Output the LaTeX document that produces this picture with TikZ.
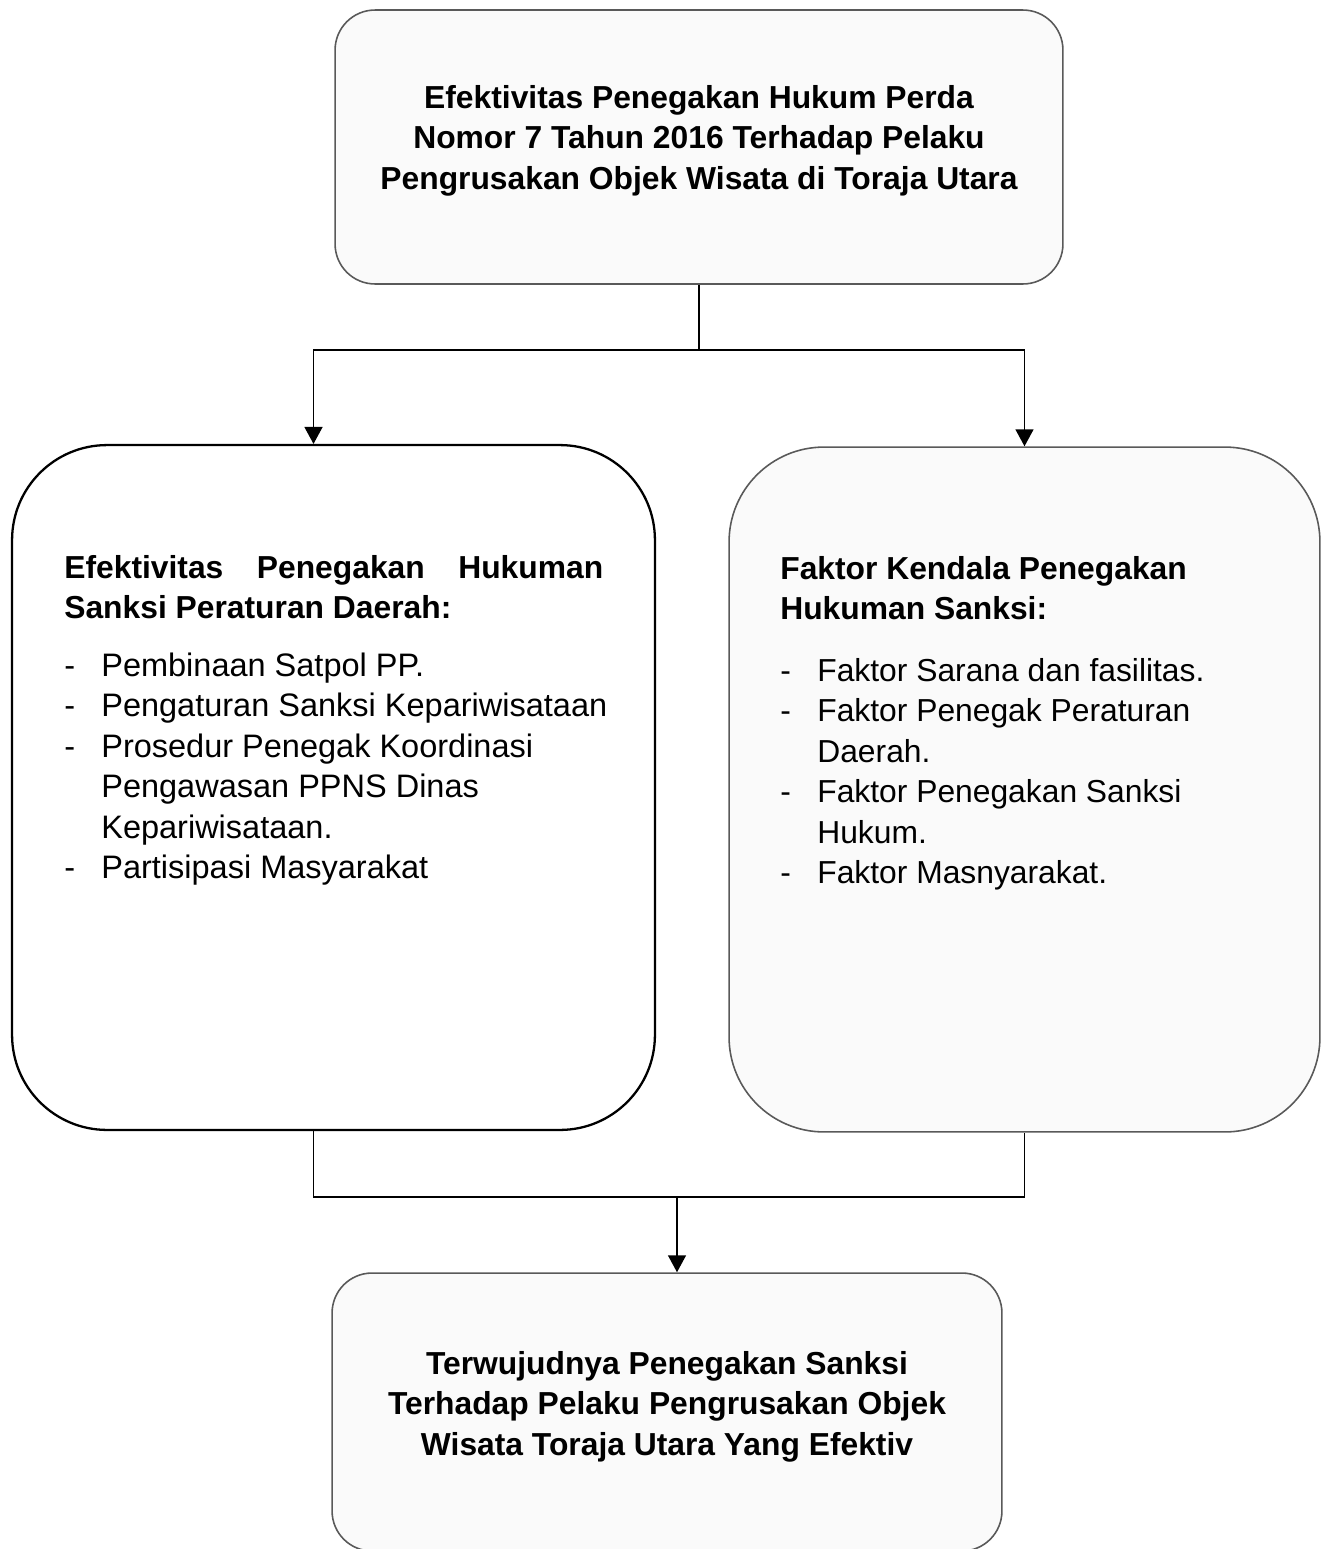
\documentclass[tikz,border=0pt]{standalone}
\usepackage{fontspec}
\setmainfont{Liberation Sans}
\usetikzlibrary{arrows.meta}

\begin{document}
\begin{tikzpicture}[x = 0.02cm, y = -0.02cm,
        kotak/.style = {draw = black!65, fill = black!2, line width = 0.9pt, rounded corners = 0.8cm, inner sep = 0pt},
        kotakbesar/.style = {kotak, rounded corners = 1.9cm},
        teks/.style = {inner sep = 0pt, font = \fontsize{18.1}{23.1}\selectfont},
        tebal/.style = {inner sep = 0pt, font = \fontsize{18.1}{23.1}\selectfont\bfseries},
        garis/.style = {line width = 0.85pt},
        panah/.style = {garis, -{Triangle[length = 0.34cm, width = 0.36cm]}}]
        \useasboundingbox (0, 0) rectangle (1329, 1549);

        % Nodes
        \node [kotak, minimum width = 14.56cm, minimum height = 5.48cm] (judul) at (699, 147) {};
        \node [kotakbesar, draw = black, fill = white, line width = 1.3pt, minimum width = 12.86cm, minimum height = 13.7cm] (efektif) at (333.5, 787.5) {};
        \node [kotakbesar, minimum width = 11.82cm, minimum height = 13.7cm] (kendala) at (1024.5, 789.5) {};
        \node [kotak, minimum width = 13.4cm, minimum height = 5.56cm] (hasil) at (667, 1412) {};

        % Texts
        \node [tebal, anchor = base] (judul-teks) at (699, 108) {\begin{tabular}[t]{@{}c@{}}
            Efektivitas Penegakan Hukum Perda\\
            Nomor 7 Tahun 2016 Terhadap Pelaku\\
            Pengrusakan Objek Wisata di Toraja Utara
        \end{tabular}};
        \node [tebal, anchor = base west] (efektif-judul) at (64, 578) {\begin{tabular}[t]{@{}p{10.78cm}@{}}
            Efektivitas\hfill Penegakan\hfill Hukuman\\
            Sanksi Peraturan Daerah:
        \end{tabular}};
        \node [teks, font = \fontsize{18.5}{23.1}\selectfont, anchor = base west] (efektif-isi) at (64, 676) {\begin{tabular}[t]{@{}p{0.74cm}@{}l@{}}
            - & Pembinaan Satpol PP.\\
            - & Pengaturan Sanksi Kepariwisataan\\
            - & Prosedur Penegak Koordinasi\\
              & Pengawasan PPNS Dinas\\
              & Kepariwisataan.\\
            - & Partisipasi Masyarakat
        \end{tabular}};
        \node [tebal, anchor = base west] (kendala-judul) at (780, 579) {\begin{tabular}[t]{@{}l@{}}
            Faktor Kendala Penegakan\\
            Hukuman Sanksi:
        \end{tabular}};
        \node [teks, anchor = base west] (kendala-isi) at (780, 681) {\begin{tabular}[t]{@{}p{0.74cm}@{}l@{}}
            - & Faktor Sarana dan fasilitas.\\
            - & Faktor Penegak Peraturan\\
              & Daerah.\\
            - & Faktor Penegakan Sanksi\\
              & Hukum.\\
            - & Faktor Masnyarakat.
        \end{tabular}};
        \node [tebal, anchor = base] (hasil-teks) at (667, 1374) {\begin{tabular}[t]{@{}c@{}}
            Terwujudnya Penegakan Sanksi\\
            Terhadap Pelaku Pengrusakan Objek\\
            Wisata Toraja Utara Yang Efektiv
        \end{tabular}};

        % Edges Direction
        \coordinate (cabang) at (699, 350);
        \coordinate (gabung) at (677, 1197);
        \draw [garis] (judul.south) -- (cabang);
        \draw [panah] (cabang) -| ([xshift = -0.4cm] efektif.north);
        \draw [panah] (cabang) -| (kendala.north);
        \draw [garis] ([xshift = -0.4cm] efektif.south) |- (gabung) -| (kendala.south);
        \draw [panah] (gabung) -- (hasil.north -| gabung);

    \end{tikzpicture}
\end{document}
